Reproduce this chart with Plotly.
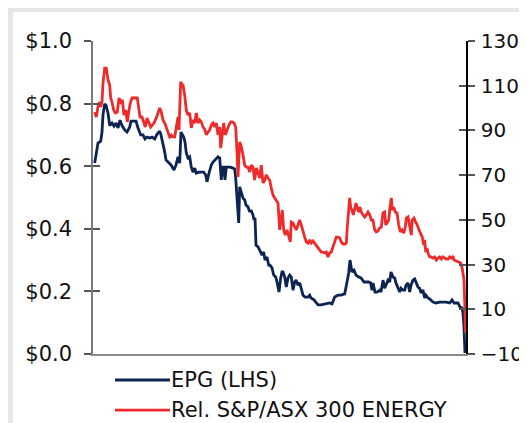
import plotly.graph_objects as go

# time index (trading-week index across the period)
epg_t = [1.7, 3, 5, 7.7, 9, 10, 11.7, 13, 15, 16.7,
         19, 21, 23, 25, 27, 29, 31.7, 34, 36.7, 38,
         41, 43, 45, 47.7, 50, 52, 54, 56.7, 59, 61.7,
         64, 66.7, 68, 70, 71.7, 73, 75.7, 78, 81, 83,
         85, 86.7, 88, 90.7, 92, 93.3, 95, 96.7, 98.3, 100,
         101.7, 103.3, 106, 108.3, 110.7, 112.7, 114, 116, 118.3, 120,
         121.7, 123.3, 125, 126.7, 128.3, 129.3, 130.7, 132, 133.3, 135,
         137.3, 140, 141.7, 142.7, 144, 145, 145.7, 146.7, 148, 150,
         151.7, 153, 155, 156.7, 158, 160, 161, 162, 163, 165,
         166.7, 168, 169, 170.7, 172, 174, 175.7, 177, 179, 180.7,
         182.7, 184, 186, 187.7, 189, 190, 191.7, 193.3, 195, 196.7,
         198.3, 200, 201.7, 203, 205, 206.7, 208, 210, 212, 215,
         216.7, 218, 221, 223, 225, 228, 231.7, 234, 236.7, 239,
         241.7, 245, 248, 251.7, 254, 255.7, 257, 259, 261, 263,
         265.7, 268, 271, 273, 275.7, 277.7, 279, 280, 282, 284,
         286.7, 288, 290, 291.7, 293, 295, 296.7, 298, 300, 301.7,
         303, 305, 306.7, 308, 310, 311.7, 313, 315, 316.7, 318,
         320, 321.7, 323, 325, 326.7, 328, 330, 331.7, 333, 335,
         336.7, 340, 343, 346.7, 350, 353, 356.7, 359, 361, 363.7,
         365, 367, 369, 370, 371, 372]
epg_price = [0.61, 0.636, 0.674, 0.68, 0.709, 0.764, 0.799, 0.795, 0.77, 0.73,
             0.738, 0.728, 0.738, 0.722, 0.747, 0.73, 0.716, 0.709, 0.725, 0.744,
             0.744, 0.744, 0.722, 0.70, 0.70, 0.687, 0.693, 0.69, 0.693, 0.687,
             0.702, 0.712, 0.70, 0.674, 0.645, 0.62, 0.613, 0.604, 0.588, 0.604,
             0.63, 0.61, 0.709, 0.693, 0.677, 0.642, 0.626, 0.63, 0.597, 0.581,
             0.594, 0.578, 0.581, 0.581, 0.581, 0.572, 0.55, 0.578, 0.604, 0.613,
             0.62, 0.626, 0.63, 0.626, 0.556, 0.597, 0.597, 0.556, 0.597, 0.597,
             0.597, 0.594, 0.591, 0.562, 0.508, 0.454, 0.419, 0.534, 0.518, 0.498,
             0.492, 0.476, 0.47, 0.454, 0.46, 0.444, 0.428, 0.435, 0.348, 0.342,
             0.332, 0.323, 0.316, 0.326, 0.30, 0.31, 0.284, 0.284, 0.275, 0.252,
             0.246, 0.23, 0.198, 0.243, 0.262, 0.262, 0.246, 0.214, 0.243, 0.252,
             0.246, 0.204, 0.23, 0.236, 0.22, 0.227, 0.214, 0.188, 0.182, 0.182,
             0.188, 0.179, 0.173, 0.166, 0.157, 0.157, 0.16, 0.16, 0.163, 0.16,
             0.182, 0.188, 0.188, 0.192, 0.227, 0.259, 0.30, 0.262, 0.268, 0.252,
             0.246, 0.243, 0.23, 0.23, 0.23, 0.227, 0.204, 0.227, 0.198, 0.198,
             0.204, 0.198, 0.236, 0.21, 0.22, 0.236, 0.23, 0.262, 0.246, 0.243,
             0.227, 0.214, 0.198, 0.21, 0.204, 0.204, 0.22, 0.227, 0.198, 0.22,
             0.236, 0.24, 0.227, 0.214, 0.21, 0.195, 0.204, 0.179, 0.188, 0.179,
             0.176, 0.166, 0.163, 0.166, 0.166, 0.166, 0.163, 0.173, 0.163, 0.163,
             0.163, 0.15, 0.147, 0.131, 0.086, 0.003]

rel_t = [1.7, 3.3, 5, 6.7, 7.7, 9, 10, 11.7, 13.3, 15,
         16.7, 17.7, 19, 20.7, 22.3, 24.3, 26, 27.7, 29.3, 31,
         32.7, 34.3, 35.7, 37.3, 39, 41.7, 44.3, 45.7, 47, 49,
         50.7, 52.3, 54, 55.7, 57.7, 59.3, 61, 63.3, 65, 66.7,
         68.3, 70, 71.7, 73.3, 75, 76.7, 78.3, 80, 81.7, 83.3,
         85, 86, 87.7, 89.3, 90, 91.7, 93.3, 95, 96.7, 98.3,
         100, 101.7, 103.3, 105, 106.7, 108.3, 110, 111.7, 113.3, 115,
         116.7, 118.3, 120, 121.7, 123.3, 125, 126.7, 127.7, 129.3, 130.7,
         132.3, 134, 136, 137.7, 139.3, 141, 142.7, 144, 145, 146.7,
         148.3, 150, 151.7, 153.3, 155, 156.7, 158.3, 160, 161.7, 163.3,
         165, 166.7, 168.3, 170, 171.7, 173.3, 175, 176.7, 178.3, 180,
         181.7, 183.3, 185, 186.7, 188.3, 189.3, 190.7, 192.3, 194, 195.7,
         197.3, 198.3, 200, 201.7, 203.3, 205, 206.7, 208.3, 210, 211.7,
         213.3, 215, 216.7, 218.3, 220, 221.7, 223.3, 225, 226.7, 228.3,
         230, 231.7, 233.3, 235, 236.7, 238.3, 240, 241.7, 243.3, 245,
         246.7, 248.3, 250, 251.7, 253.3, 254.3, 255.7, 256.7, 257.7, 259,
         260.3, 261.7, 263, 264.3, 265.7, 267, 268.3, 270, 271.7, 273.3,
         275, 276.7, 278.3, 280, 281.7, 283.3, 285, 286.7, 288.3, 290,
         291.7, 292.7, 294, 295.7, 296.7, 298.3, 299.3, 300.7, 302.3, 304,
         305.7, 307.3, 309, 310.7, 312.3, 313.3, 315, 316.7, 318.3, 319.3,
         321, 322.7, 324.3, 326, 327.7, 329.3, 330.7, 331.7, 332.7, 334,
         335, 336.7, 338.3, 340, 341.7, 343.3, 345, 346.7, 348.3, 350,
         351.7, 353.3, 355, 356.7, 358.3, 360, 361, 363.3, 366, 367.7,
         369, 370, 371, 372, 372.3]
rel_energy = [98.2, 96.0, 100.5, 102.7, 100.5, 102.7, 111.2, 117.9, 117.9, 112.6,
              110.3, 104.5, 102.7, 99.1, 97.8, 98.2, 104.5, 102.7, 103.6, 96.9,
              99.1, 93.8, 98.2, 102.3, 104.5, 104.5, 104.5, 100.0, 96.0, 96.0,
              93.8, 91.5, 95.6, 93.3, 91.5, 92.4, 93.3, 95.6, 97.8, 100.0,
              98.2, 94.7, 93.3, 91.5, 88.8, 87.1, 87.9, 87.1, 87.1, 91.1,
              96.0, 90.2, 111.7, 110.3, 110.3, 105.8, 99.1, 96.9, 97.8, 91.1,
              94.7, 93.3, 97.8, 93.3, 94.7, 93.8, 91.5, 90.6, 88.0, 89.3,
              90.2, 92.4, 93.3, 91.5, 93.3, 88.0, 91.5, 82.1, 89.3, 93.3,
              88.0, 90.2, 92.4, 93.8, 93.8, 93.3, 91.5, 80.3, 69.2, 84.8,
              82.6, 79.0, 74.5, 73.6, 73.6, 71.4, 74.5, 73.6, 67.8, 73.2,
              71.0, 68.7, 74.5, 66.5, 67.8, 70.1, 68.7, 67.8, 64.2, 61.1,
              59.8, 58.9, 57.5, 45.5, 51.3, 54.4, 45.5, 43.2, 45.5, 43.2,
              40.1, 49.0, 48.6, 46.8, 45.5, 47.7, 49.9, 47.7, 45.5, 42.3,
              40.1, 39.6, 41.0, 39.6, 40.5, 39.6, 38.7, 37.4, 36.5, 35.6,
              35.6, 35.2, 35.6, 33.4, 35.2, 35.6, 37.9, 40.1, 42.3, 42.3,
              41.9, 40.1, 39.2, 39.2, 39.6, 46.8, 53.1, 59.8, 55.3, 54.4,
              52.2, 55.3, 57.5, 55.3, 53.5, 55.7, 53.5, 52.2, 51.3, 52.2,
              53.5, 52.2, 49.9, 49.9, 45.5, 44.6, 45.0, 46.4, 46.8, 53.1,
              53.5, 47.7, 48.6, 49.9, 54.4, 59.8, 54.4, 55.7, 53.5, 53.1,
              47.7, 44.6, 45.5, 44.1, 46.8, 50.8, 51.3, 46.4, 43.2, 49.9,
              50.8, 49.0, 47.7, 45.5, 44.1, 42.3, 38.7, 41.0, 35.6, 37.4,
              35.2, 33.4, 33.4, 32.9, 33.4, 32.0, 32.9, 33.4, 32.5, 33.4,
              32.9, 32.5, 32.5, 33.4, 32.9, 33.8, 32.0, 31.6, 31.1, 30.7,
              28.9, 26.2, 23.1, 9.7, -0.5]

left_ticks = [0.0, 0.2, 0.4, 0.6, 0.8, 1.0]
left_labels = ["$0.0", "$0.2", "$0.4", "$0.6", "$0.8", "$1.0"]
right_ticks = [-10, 10, 30, 50, 70, 90, 110, 130]
series_names = ["EPG (LHS)", "Rel. S&P/ASX 300 ENERGY"]

NAVY = "#0b2451"
RED = "#ee2a2a"
FONT = dict(family="DejaVu Sans, Verdana, sans-serif", size=21, color="#111111")
FONT_R = dict(family="DejaVu Sans, Verdana, sans-serif", size=20, color="#111111")

fig = go.Figure()
fig.add_trace(go.Scatter(x=epg_t, y=epg_price, mode="lines", name=series_names[0],
                         line=dict(color=NAVY, width=2.8), yaxis="y"))
fig.add_trace(go.Scatter(x=rel_t, y=rel_energy, mode="lines", name=series_names[1],
                         line=dict(color=RED, width=2.8), yaxis="y2"))
fig.add_trace(go.Scatter(x=[None], y=[None], yaxis="y3", showlegend=False, hoverinfo="skip"))
fig.add_trace(go.Scatter(x=[None], y=[None], yaxis="y4", showlegend=False, hoverinfo="skip"))

common = dict(showgrid=False, zeroline=False, fixedrange=True, automargin=False)
GRAY = "#e6e6e6"

# hand-drawn legend (lines + text) under the plot
legend_rows = [-0.083, -0.179]
legend_colors = [NAVY, RED]
shapes = [
    dict(type="rect", xref="paper", yref="paper", x0=-2, x1=(13 - 93) / 373,
         y0=-2, y1=2, fillcolor=GRAY, line=dict(width=0), layer="below"),
    dict(type="rect", xref="paper", yref="paper", x0=-2, x1=2,
         y0=(354 - 12) / 313, y1=2, fillcolor=GRAY, line=dict(width=0), layer="below"),
]
annotations = []
for yy, col, name in zip(legend_rows, legend_colors, series_names):
    shapes.append(dict(type="line", xref="paper", yref="paper", x0=0.059, x1=0.2064,
                       y0=yy, y1=yy, line=dict(color=col, width=2.8)))
    annotations.append(dict(xref="paper", yref="paper", x=0.2064, y=yy, text=name,
                            showarrow=False, xanchor="left", yanchor="middle",
                            font=FONT, borderpad=0))

fig.update_layout(
    width=519, height=415,
    margin=dict(l=85, r=61, t=33, b=69, autoexpand=False),
    paper_bgcolor="white",
    plot_bgcolor="white",
    font=FONT,
    showlegend=False,
    xaxis=dict(range=[0, 373], showticklabels=False, ticks="", showline=True,
               linecolor="#8a8a8a", linewidth=2, **common),
    yaxis=dict(range=[0, 1], tickvals=left_ticks, ticktext=left_labels,
               ticks="outside", ticklen=7, tickwidth=1.5, tickcolor="#555555",
               ticklabelstandoff=8,
               showline=True, linecolor="#7a7a7a", linewidth=1.5, **common),
    yaxis3=dict(range=[0, 1], tickvals=left_ticks, overlaying="y", side="left",
                ticks="inside", ticklen=7, tickwidth=1.5, tickcolor="#555555",
                showticklabels=False, showline=False, **common),
    yaxis2=dict(range=[-10, 130], tickvals=right_ticks, overlaying="y", side="right",
                ticks="outside", ticklen=7, tickwidth=1.5, tickcolor="#555555",
                ticklabelstandoff=2, tickfont=FONT_R,
                showline=True, linecolor="#000000", linewidth=1.5, **common),
    yaxis4=dict(range=[-10, 130], tickvals=right_ticks, overlaying="y", side="right",
                ticks="inside", ticklen=7, tickwidth=1.5, tickcolor="#555555",
                showticklabels=False, showline=False, **common),
    shapes=shapes,
    annotations=annotations,
)

fig.write_html("out.html")
